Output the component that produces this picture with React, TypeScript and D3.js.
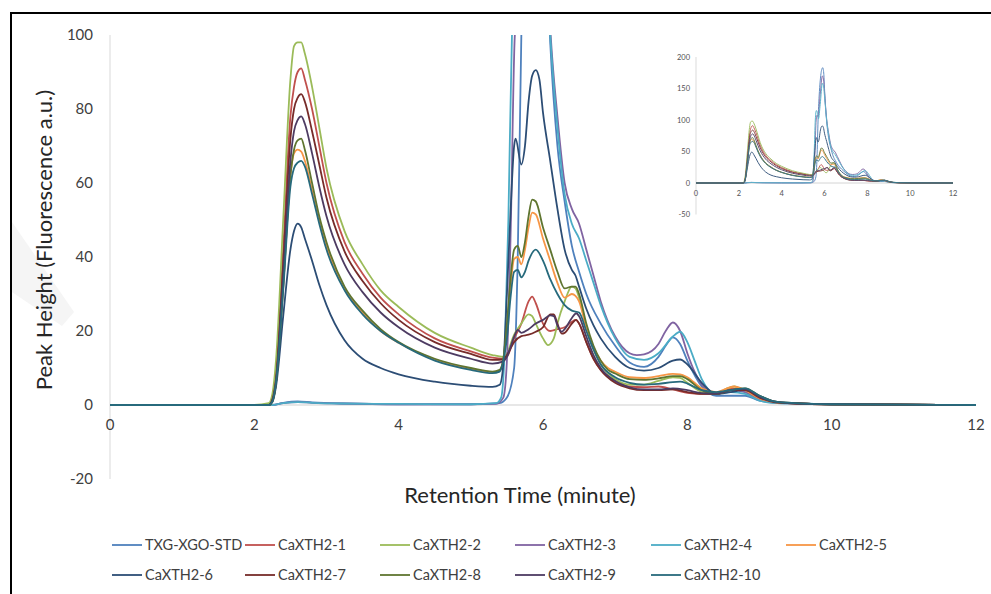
import React from 'react';
import * as d3 from 'd3';

type Pt = [number, number];

const seriesNames = ['TXG-XGO-STD', 'CaXTH2-1', 'CaXTH2-2', 'CaXTH2-3', 'CaXTH2-4', 'CaXTH2-5', 'CaXTH2-6', 'CaXTH2-7', 'CaXTH2-8', 'CaXTH2-9', 'CaXTH2-10'];
const seriesColors = ['#4F81BD', '#C0504D', '#9BBB59', '#8064A2', '#4BACC6', '#F79646', '#2C4D75', '#772C2A', '#5F7530', '#4D3B62', '#276A7C'];

const xTicks = [0, 2, 4, 6, 8, 10, 12];
const yTicks = [-20, 0, 20, 40, 60, 80, 100];
const insetYTicks = [-50, 0, 50, 100, 150, 200];

const stdData: Pt[] = [[0,0],[1,0],[2,0],[2.25,0],[2.4,0.6],[2.6,1],[2.8,0.7],[3.2,0.4],[4,0.2],[5,0.2],[5.4,0.5],[5.5,2],[5.6,10],[5.65,40],[5.7,100],[5.75,138],[5.8,162],[5.87,180],[5.92,183],[5.97,172],[6.0,150],[6.05,120],[6.1,98],[6.2,70],[6.3,55],[6.4,43],[6.5,36],[6.6,30],[6.8,22],[7.0,16],[7.2,11.5],[7.4,10.3],[7.6,13],[7.7,16],[7.8,18.3],[7.9,16.5],[8.0,12],[8.2,5],[8.4,2.5],[8.6,2.5],[8.8,2.5],[9.0,1.2],[9.2,0.6],[9.5,0.4],[10,0.2],[11,0.1],[12,0]];

const x1Data: Pt[] = [[0,0],[1,0],[2,0],[2.2,0],[2.25,1.5],[2.3,8],[2.4,42],[2.5,78],[2.55,86],[2.6,90],[2.65,91],[2.7,88],[2.8,80],[2.9,70],[3.0,60],[3.25,44],[3.5,35.5],[3.75,29],[4.0,24.5],[4.5,18],[5.0,14.5],[5.3,12.8],[5.45,12.5],[5.5,13],[5.6,18],[5.7,22],[5.8,28],[5.85,29.3],[5.9,27.5],[6.0,22],[6.1,20],[6.2,20.5],[6.3,21],[6.4,22.5],[6.45,23],[6.5,22],[6.6,17],[6.7,12.5],[6.8,9.5],[7.0,6.5],[7.2,5],[7.4,4.8],[7.6,5],[7.8,4.2],[8.0,3.3],[8.2,3],[8.4,3],[8.6,4.5],[8.75,4],[8.9,3],[9.0,1.5],[9.2,0.8],[9.5,0.4],[10,0.2],[11,0.1],[12,0]];

const x2Data: Pt[] = [[0,0],[1,0],[2,0],[2.2,0.5],[2.25,3],[2.3,12],[2.4,50],[2.5,88],[2.55,97],[2.6,98],[2.65,98],[2.7,95],[2.8,86],[2.9,75],[3.0,64],[3.25,47],[3.5,38],[3.75,31],[4.0,26.5],[4.5,19.5],[5.0,15.5],[5.3,13.5],[5.45,13],[5.5,14],[5.6,19],[5.7,22],[5.8,24.5],[5.85,24],[5.9,22],[6.0,18],[6.07,16.2],[6.15,18],[6.2,22],[6.3,28],[6.4,32],[6.45,31.5],[6.5,29],[6.6,21],[6.7,15],[6.8,11],[7.0,7],[7.2,5.5],[7.4,5.5],[7.6,6.5],[7.8,7.5],[7.9,7.3],[8.0,6],[8.2,3.5],[8.4,3],[8.55,4.5],[8.65,5],[8.8,3.5],[9.0,1.5],[9.2,0.8],[9.5,0.4],[10,0.2],[11,0.1],[12,0]];

const x3Data: Pt[] = [[0,0],[1,0],[2,0],[2.25,0],[2.4,0.5],[2.6,0.8],[2.8,0.6],[3.2,0.4],[4,0.2],[5,0.2],[5.35,0.3],[5.45,2],[5.5,12],[5.55,45],[5.61,100],[5.66,108],[5.7,105],[5.8,140],[5.9,170],[5.95,165],[6.0,145],[6.05,122],[6.1,102],[6.2,78],[6.3,60],[6.4,53],[6.5,49],[6.6,42],[6.7,35],[6.8,28],[7.0,18.5],[7.2,14],[7.3,13.5],[7.4,13.7],[7.6,16.5],[7.7,20],[7.8,22.3],[7.9,20],[8.0,14],[8.1,9],[8.2,5.5],[8.4,3],[8.6,4],[8.8,3.5],[9.0,1.5],[9.2,0.7],[9.5,0.4],[10,0.2],[11,0.1],[12,0]];

const x4Data: Pt[] = [[0,0],[1,0],[2,0],[2.25,0],[2.4,0.5],[2.6,0.8],[2.8,0.6],[3.2,0.4],[4,0.3],[5,0.2],[5.35,0.5],[5.42,2],[5.47,15],[5.52,50],[5.57,100],[5.62,115],[5.66,113],[5.72,102],[5.8,125],[5.9,158],[5.95,155],[6.0,138],[6.05,118],[6.1,100],[6.2,75],[6.3,57],[6.4,49],[6.5,45],[6.6,39],[6.7,33],[6.8,27],[7.0,18],[7.2,13],[7.4,12.2],[7.6,14],[7.8,18.5],[7.9,19.8],[8.0,17],[8.1,12],[8.2,7],[8.4,3],[8.6,3.5],[8.8,3],[9.0,1.2],[9.2,0.6],[9.5,0.4],[10,0.2],[11,0.1],[12,0]];

const x5Data: Pt[] = [[0,0],[1,0],[2,0],[2.2,0],[2.25,1],[2.3,6],[2.4,32],[2.5,62],[2.55,68],[2.6,69],[2.65,68.5],[2.7,66],[2.8,58],[2.9,50],[3.0,43],[3.25,31.5],[3.5,25],[3.75,20],[4.0,16.8],[4.5,12.3],[5.0,9.8],[5.3,8.9],[5.4,9.3],[5.45,12.3],[5.5,20],[5.55,32],[5.6,39.5],[5.65,40],[5.7,38],[5.75,42],[5.8,48],[5.85,52],[5.9,51.5],[6.0,45],[6.1,39],[6.2,33],[6.3,29],[6.4,30],[6.45,29.5],[6.5,28],[6.6,21],[6.7,15.5],[6.8,12],[6.9,10],[7.0,9],[7.2,7.5],[7.4,7.3],[7.6,7.8],[7.8,8.4],[7.9,8.3],[8.0,7.5],[8.2,4.5],[8.4,3.5],[8.55,4.5],[8.65,5],[8.8,4],[9.0,1.8],[9.2,0.8],[9.5,0.4],[10,0.2],[11,0.1],[12,0]];

const x6Data: Pt[] = [[0,0],[1,0],[2,0],[2.2,0],[2.25,0.8],[2.3,5],[2.4,24],[2.5,42],[2.55,47],[2.6,49],[2.65,48],[2.7,45],[2.8,39],[2.9,32.5],[3.0,27],[3.25,17.5],[3.5,12.5],[3.75,10],[4.0,8.3],[4.5,6.3],[5.0,5.2],[5.3,4.9],[5.4,5.5],[5.45,11],[5.5,30],[5.55,52],[5.6,70],[5.62,72],[5.7,65],[5.75,70],[5.8,82],[5.85,89],[5.9,90.5],[5.95,88],[6.0,79],[6.1,66],[6.2,53],[6.3,42],[6.4,36.5],[6.45,35],[6.5,32],[6.6,26],[6.7,21.5],[6.8,18],[7.0,13],[7.2,10],[7.4,9.3],[7.6,10],[7.8,12],[7.9,12.3],[8.0,11],[8.2,6],[8.4,3],[8.6,3.5],[8.8,4],[9.0,2.5],[9.2,1],[9.5,0.5],[10,0.2],[11,0.1],[12,0]];

const x7Data: Pt[] = [[0,0],[1,0],[2,0],[2.2,0],[2.25,1.5],[2.3,7],[2.4,38],[2.5,72],[2.55,80],[2.6,83],[2.65,84],[2.7,82],[2.8,74],[2.9,65],[3.0,56],[3.25,41.5],[3.5,33.5],[3.75,27.5],[4.0,23],[4.5,17],[5.0,13.8],[5.3,12.2],[5.45,12.3],[5.5,13.5],[5.6,17],[5.7,18.6],[5.8,19],[5.9,19.8],[6.0,21],[6.1,24.5],[6.15,24.5],[6.2,22],[6.26,19.3],[6.3,19.5],[6.4,22],[6.46,23],[6.5,22],[6.6,17],[6.7,12.5],[6.8,9.5],[7.0,6],[7.2,4.5],[7.4,4],[7.6,4],[7.8,4.2],[8.0,3.5],[8.2,3],[8.4,3],[8.6,4],[8.8,4],[9.0,2],[9.2,0.8],[9.5,0.4],[10,0.2],[11,0.1],[12,0]];

const x8Data: Pt[] = [[0,0],[1,0],[2,0],[2.2,0],[2.25,1],[2.3,6],[2.4,32],[2.5,62],[2.55,69],[2.6,71.5],[2.65,72],[2.7,69],[2.8,60],[2.9,51],[3.0,44],[3.25,32],[3.5,25.5],[3.75,20.5],[4.0,17],[4.5,12.5],[5.0,10],[5.3,9],[5.4,9.5],[5.45,12.5],[5.5,22],[5.55,34],[5.6,42],[5.65,43],[5.7,40],[5.75,44],[5.8,51],[5.85,55.5],[5.9,55],[6.0,48],[6.1,42],[6.2,36],[6.3,31.5],[6.4,32],[6.45,32],[6.5,30],[6.6,22],[6.7,16],[6.8,12],[6.9,9.5],[7.0,8.5],[7.2,7],[7.4,6.8],[7.6,7.2],[7.8,7.8],[7.9,7.8],[8.0,7],[8.2,4],[8.4,3],[8.6,4],[8.8,4.5],[9.0,2.5],[9.2,1],[9.5,0.5],[10,0.2],[11,0.1],[12,0]];

const x9Data: Pt[] = [[0,0],[1,0],[2,0],[2.2,0],[2.25,1.2],[2.3,6],[2.4,35],[2.5,66],[2.55,74],[2.6,77],[2.65,78],[2.7,76],[2.8,68],[2.9,59],[3.0,51],[3.25,38],[3.5,30.5],[3.75,25],[4.0,21],[4.5,15.5],[5.0,12.5],[5.3,11.2],[5.45,11.8],[5.5,13],[5.6,18.5],[5.65,20.3],[5.7,19.5],[5.8,20.5],[5.9,22],[6.0,23],[6.1,24.2],[6.15,24],[6.2,21.5],[6.26,19.8],[6.3,20.5],[6.4,23.5],[6.46,24.8],[6.5,24],[6.6,18.5],[6.7,13.5],[6.8,10],[7.0,6.5],[7.2,4.8],[7.4,4.2],[7.6,4.2],[7.8,4.5],[8.0,4],[8.2,3.2],[8.4,3],[8.6,4],[8.8,4.3],[9.0,2.2],[9.2,0.9],[9.5,0.4],[10,0.2],[11,0.1],[12,0]];

const x10Data: Pt[] = [[0,0],[1,0],[2,0],[2.2,0],[2.25,1],[2.3,6],[2.4,31],[2.5,59],[2.55,64],[2.6,65.5],[2.65,66],[2.7,64.5],[2.8,57],[2.9,49],[3.0,42],[3.25,31],[3.5,24.5],[3.75,20],[4.0,16.8],[4.5,12],[5.0,9.5],[5.3,8.6],[5.4,9],[5.45,12],[5.5,18],[5.55,29],[5.6,36],[5.65,36.5],[5.7,34.5],[5.75,36],[5.8,39],[5.9,42],[6.0,39],[6.1,34],[6.2,30],[6.3,27],[6.4,25.5],[6.5,25],[6.6,20],[6.7,15],[6.8,11],[7.0,7.5],[7.2,6],[7.4,5.5],[7.6,5.7],[7.8,6.2],[7.9,6.3],[8.0,5.8],[8.2,4],[8.4,3.5],[8.6,4],[8.8,4.5],[9.0,2.5],[9.2,1],[9.5,0.5],[10,0.2],[11,0.1],[12,0]];

const allData: Pt[][] = [stdData, x1Data, x2Data, x3Data, x4Data, x5Data, x6Data, x7Data, x8Data, x9Data, x10Data];

const FONT = "Lato, 'Open Sans', sans-serif";

export default function App() {
  const W = 991, H = 594;
  const x = d3.scaleLinear().domain([0, 12]).range([110, 976]);
  const y = d3.scaleLinear().domain([-20, 100]).range([479, 35]);
  const line = d3.line<Pt>().x(d => x(d[0])).y(d => y(d[1])).curve(d3.curveMonotoneX);

  const ix = d3.scaleLinear().domain([0, 12]).range([696, 953]);
  const iy = d3.scaleLinear().domain([-50, 200]).range([214.5, 57]);
  const iline = d3.line<Pt>().x(d => ix(d[0])).y(d => iy(d[1])).curve(d3.curveMonotoneX);

  const legendCols = [112, 245, 380, 515, 651, 786];
  const legendRows = [545, 575];

  return (
    <svg width={W} height={H} style={{ position: 'absolute', left: 0, top: 0, background: '#fff' }} fontFamily={FONT}>
      <defs>
        <clipPath id="plotClip">
          <rect x={x(0)} y={y(100)} width={x(12) - x(0)} height={y(-20) - y(100)} />
        </clipPath>
      </defs>
      <rect x={0} y={0} width={W} height={H} fill="#fff" />
      {/* faint watermark band at the left edge */}
      <polygon points="12,222 12,292 62,326 74,312" fill="#f5f5f5" />
      {/* outer frame */}
      <line x1={10} y1={13} x2={W} y2={13} stroke="#000" strokeWidth={2} />
      <line x1={11} y1={12} x2={11} y2={H} stroke="#000" strokeWidth={2} />

      {/* axes */}
      <line x1={x(0)} y1={y(100)} x2={x(0)} y2={y(-20)} stroke="#d9d9d9" strokeWidth={1} />
      <line x1={x(0)} y1={y(0)} x2={x(12)} y2={y(0)} stroke="#d0d0d0" strokeWidth={1.2} />
      {yTicks.map(t => (
        <text key={'yt' + t} x={93} y={y(t)} dy="0.35em" textAnchor="end" fontSize={15} fill="#404040">{t}</text>
      ))}
      {xTicks.map(t => (
        <text key={'xt' + t} x={x(t)} y={425} dy="0.35em" textAnchor="middle" fontSize={15} fill="#404040">{t}</text>
      ))}

      <g clipPath="url(#plotClip)">
        {allData.map((d, i) => (
          <path key={'s' + i} d={line(d) || ''} fill="none" stroke={seriesColors[i]} strokeWidth={1.8} strokeLinejoin="round" />
        ))}
      </g>

      <text x={520} y={495} dy="0.35em" textAnchor="middle" fontSize={22} fill="#262626">Retention Time (minute)</text>
      <text transform="translate(52,240) rotate(-90)" textAnchor="middle" fontSize={22} fill="#262626">Peak Height (Fluorescence a.u.)</text>

      {/* inset */}
      <g opacity={0.9}>
        <line x1={ix(0)} y1={iy(200)} x2={ix(0)} y2={iy(-50)} stroke="#d9d9d9" strokeWidth={1} />
        <line x1={ix(0)} y1={iy(0)} x2={ix(12)} y2={iy(0)} stroke="#d0d0d0" strokeWidth={1} />
        {insetYTicks.map(t => (
          <text key={'iyt' + t} x={690} y={iy(t)} dy="0.35em" textAnchor="end" fontSize={7.5} fill="#404040">{t}</text>
        ))}
        {xTicks.map(t => (
          <text key={'ixt' + t} x={ix(t)} y={iy(0) + 10} dy="0.35em" textAnchor="middle" fontSize={7.5} fill="#404040">{t}</text>
        ))}
        {allData.map((d, i) => (
          <path key={'is' + i} d={iline(d) || ''} fill="none" stroke={seriesColors[i]} strokeWidth={1} strokeLinejoin="round" />
        ))}
      </g>

      {/* legend */}
      {seriesNames.map((name, i) => {
        const row = i < 6 ? 0 : 1;
        const col = i < 6 ? i : i - 6;
        const lx = legendCols[col];
        const ly = legendRows[row];
        return (
          <g key={'lg' + i}>
            <line x1={lx} y1={ly} x2={lx + 30} y2={ly} stroke={seriesColors[i]} strokeWidth={1.8} />
            <text x={lx + 33} y={ly} dy="0.35em" fontSize={14.5} fill="#404040">{name}</text>
          </g>
        );
      })}
    </svg>
  );
}
